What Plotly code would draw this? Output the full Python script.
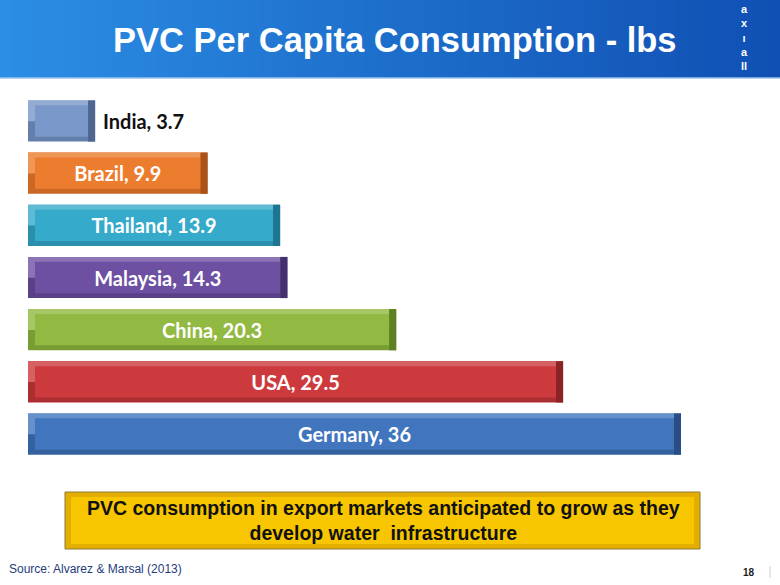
import plotly.graph_objects as go

countries = ["India", "Brazil", "Thailand", "Malaysia", "China", "USA", "Germany"]
values = [3.7, 9.9, 13.9, 14.3, 20.3, 29.5, 36]
bar_colors = ["#7A98C9", "#EC7D2E", "#36AACA", "#6E50A2", "#92BA42", "#CC3A3D", "#4176BE"]
edge_colors = ["#4E668F", "#A8531A", "#1F7590", "#45306E", "#5E8024", "#8A2326", "#284E85"]
label_pos = ["outside", "inside", "inside", "inside", "inside", "inside", "inside"]
label_colors = ["#111111", "white", "white", "white", "white", "white", "white"]


def blend(c1, c2, t):
    a = [int(c1[i:i + 2], 16) for i in (1, 3, 5)]
    b = [int(c2[i:i + 2], 16) for i in (1, 3, 5)]
    return "rgb({},{},{})".format(*[int(a[j] + (b[j] - a[j]) * t) for j in range(3)])


frame_colors = [blend(f, e, 0.5) for f, e in zip(bar_colors, edge_colors)]
top_colors = [blend(f, "#FFFFFF", 0.2) for f in bar_colors]

W, H = 780, 585
k = 653 / 36.0
x0 = -28 / k
x1 = (W - 28) / k
sp = 52.17
y_bottom = (H - 121) / sp
y_top = (0 - 121) / sp
bevel = 7 / k

fig = go.Figure()
# outer bevel frame (darker, shows along lower edge)
fig.add_trace(go.Bar(
    y=countries, x=values, orientation="h",
    marker=dict(color=frame_colors, line=dict(width=0)),
    width=0.79, hoverinfo="skip",
))
# lighter upper bevel
fig.add_trace(go.Bar(
    y=countries, x=[v - bevel for v in values], orientation="h",
    marker=dict(color=top_colors, line=dict(width=0)),
    width=0.4, offset=-0.395, hoverinfo="skip",
))
# inner face
fig.add_trace(go.Bar(
    y=countries, x=[v - 2 * bevel for v in values], base=bevel, orientation="h",
    marker=dict(color=bar_colors, line=dict(width=0)),
    width=0.6, hoverinfo="skip",
))
# dark right cap
fig.add_trace(go.Bar(
    y=countries, x=[bevel] * len(values), base=[v - bevel for v in values], orientation="h",
    marker=dict(color=edge_colors, line=dict(width=0)),
    width=0.79, hoverinfo="skip",
))
# labels
fig.add_trace(go.Bar(
    y=countries, x=values, orientation="h",
    marker=dict(color="rgba(0,0,0,0)", line=dict(width=0)),
    width=0.79,
    text=[("\u00a0" if p == "outside" else "") + f"{c}, {v:g}" for c, v, p in zip(countries, values, label_pos)],
    textposition=label_pos,
    insidetextanchor="middle",
    textfont=dict(family="Lato, Open Sans, sans-serif", size=20, color=label_colors, weight="bold"),
    outsidetextfont=dict(family="Lato, Open Sans, sans-serif", size=20, color="#111111", weight="bold"),
    constraintext="none",
    cliponaxis=False,
    hoverinfo="skip",
))

shapes = []
# header gradient banner
n = 60
c_left = (44, 142, 228)
c_right = (16, 80, 180)
for i in range(n):
    t = i / (n - 1)
    r = int(c_left[0] + (c_right[0] - c_left[0]) * t)
    g = int(c_left[1] + (c_right[1] - c_left[1]) * t)
    b = int(c_left[2] + (c_right[2] - c_left[2]) * t)
    shapes.append(dict(type="rect", xref="paper", yref="paper",
                       x0=i / n, x1=(i + 1) / n + 0.002, y0=1 - 78 / H, y1=1,
                       fillcolor=f"rgb({r},{g},{b})", line=dict(width=0), layer="below"))
shapes.append(dict(type="line", xref="paper", yref="paper", x0=0, x1=1,
                   y0=1 - 78 / H, y1=1 - 78 / H, line=dict(color="#9CC3EC", width=1.5)))
# callout box (bevel: frame + face)
shapes.append(dict(type="rect", xref="paper", yref="paper",
                   x0=65 / W, x1=700 / W, y0=1 - 549 / H, y1=1 - 492 / H,
                   fillcolor="#E3AE00", line=dict(color="#8C7A3A", width=1), layer="above"))
shapes.append(dict(type="rect", xref="paper", yref="paper",
                   x0=71 / W, x1=694 / W, y0=1 - 544 / H, y1=1 - 497 / H,
                   fillcolor="#F7C600", line=dict(width=0), layer="above"))
# small divider near page number
shapes.append(dict(type="line", xref="paper", yref="paper", x0=770 / W, x1=770 / W,
                   y0=1 - 578 / H, y1=1 - 566 / H, line=dict(color="#CCCCCC", width=1)))

annotations = [
    dict(text="<b>PVC Per Capita Consumption - lbs</b>", x=395 / W, y=1 - 40 / H,
         xref="paper", yref="paper", showarrow=False, xanchor="center", yanchor="middle",
         font=dict(family="Liberation Sans, Arial, sans-serif", size=34.5, color="white")),
    dict(text="<b>PVC consumption in export markets anticipated to grow as they<br>develop water  infrastructure</b>",
         x=383 / W, y=1 - 520 / H, xref="paper", yref="paper", showarrow=False,
         xanchor="center", yanchor="middle",
         font=dict(family="Liberation Sans, Arial, sans-serif", size=19.5, color="#111111")),
    dict(text="Source: Alvarez & Marsal (2013)", x=7 / W, y=1 - 569 / H, xref="paper", yref="paper",
         showarrow=False, xanchor="left", yanchor="middle",
         font=dict(family="Liberation Sans, Arial, sans-serif", size=12, color="#1F3C7C")),
    dict(text="<b>18</b>", x=757 / W, y=1 - 572 / H, xref="paper", yref="paper",
         showarrow=False, xanchor="right", yanchor="middle",
         font=dict(family="Liberation Sans, sans-serif", size=10, color="#222222")),
    dict(text="<b>a<br>x<br>\u0131<br>a<br>ll</b>", x=744 / W, y=1 - 38 / H, xref="paper", yref="paper",
         showarrow=False, xanchor="center", yanchor="middle",
         font=dict(family="Liberation Sans, Arial, sans-serif", size=11, color="white")),
]

fig.update_layout(
    width=W, height=H, margin=dict(l=0, r=0, t=0, b=0),
    paper_bgcolor="white", plot_bgcolor="white",
    showlegend=False, barmode="overlay",
    xaxis=dict(range=[x0, x1], visible=False, fixedrange=True),
    yaxis=dict(range=[y_bottom, y_top], visible=False, categoryorder="array",
               categoryarray=countries, fixedrange=True),
    shapes=shapes, annotations=annotations,
)

fig.write_html("out.html", config={"displayModeBar": False})
